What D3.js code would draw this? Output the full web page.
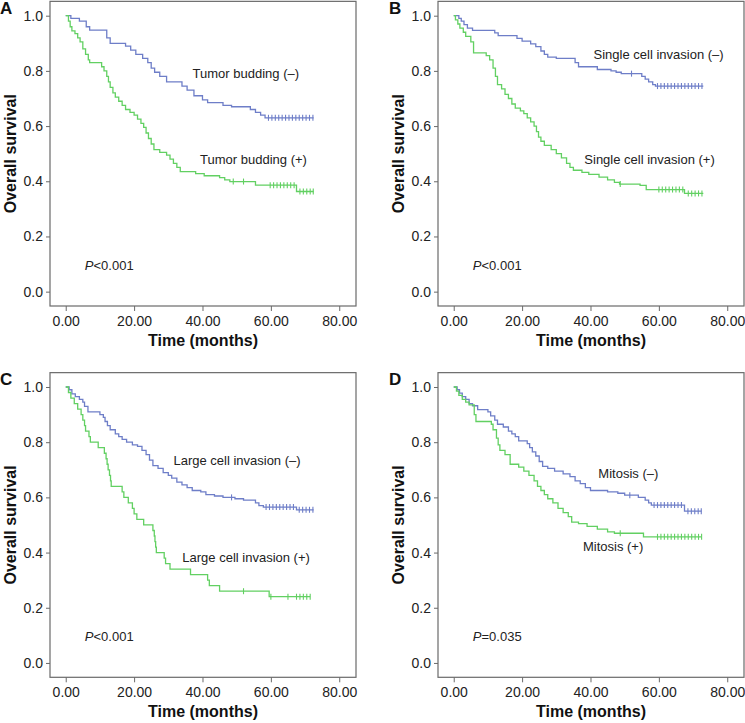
<!DOCTYPE html>
<html>
<head>
<meta charset="utf-8">
<script src="https://cdn.jsdelivr.net/npm/d3@7"></script>
<style>
  body { margin: 0; background: #fff; }
  text { font-family: "Liberation Sans", Arial, sans-serif; }
</style>
</head>
<body>
<script>
// Axis ticks shared by all four panels
var xTicks = [0, 20, 40, 60, 80];
var yTicks = [0, 0.2, 0.4, 0.6, 0.8, 1.0];

// Kaplan-Meier steps as [time in months, survival after that time]
// A - tumor budding
var buddingNeg = [[0,1],[1.5,0.99],[4,0.98],[6,0.96],[7,0.948],[12,0.92],[13,0.90],[17.5,0.89],[19,0.875],[20.5,0.86],
  [22.5,0.845],[24,0.83],[25,0.81],[26,0.795],[27.5,0.78],[29.5,0.76],[34,0.745],[35.5,0.73],[37.5,0.71],[40,0.695],
  [41.5,0.685],[46,0.675],[48.5,0.67],[54,0.66],[55.5,0.65],[57,0.64],[58.3,0.63],[72.5,0.63]];
var buddingNegCensor = [59.3,60.3,61.3,62.3,63.3,64.3,65.3,66.3,67.3,68.3,69.3,70.3,71.3,72.3];
var buddingPos = [[0,1],[0.8,0.98],[1.3,0.96],[1.8,0.945],[2.7,0.935],[3.5,0.92],[4.2,0.905],[5,0.88],[5.8,0.86],[6.6,0.84],
  [7,0.83],[10.5,0.815],[11.2,0.80],[12,0.78],[12.5,0.76],[13,0.74],[13.8,0.72],[14.5,0.705],[15.5,0.69],[16.5,0.675],
  [17.5,0.66],[18.8,0.65],[20,0.64],[21,0.625],[22,0.61],[22.8,0.595],[23.5,0.575],[24.2,0.555],[25,0.535],[25.8,0.515],
  [27.5,0.505],[29.5,0.495],[30.5,0.48],[31.5,0.465],[32.5,0.45],[33.5,0.435],[38,0.428],[40.5,0.42],[45,0.413],
  [46.5,0.405],[48,0.399],[55.5,0.386],[67.5,0.363],[72.5,0.363]];
var buddingPosCensor = [49,52,59.8,60.8,61.8,62.8,63.8,64.8,65.8,66.8,68.5,69.5,70.5,71.5,72.4];

// B - single cell invasion
var singleNeg = [[0,1],[1.5,0.99],[2.2,0.98],[3,0.968],[4,0.955],[5.5,0.947],[12,0.938],[13,0.928],[18.5,0.918],[20,0.908],
  [22.5,0.898],[24,0.888],[25.5,0.872],[26.5,0.86],[27.5,0.85],[30,0.845],[35.5,0.83],[36.5,0.815],[42,0.805],[46,0.80],
  [47.5,0.795],[49,0.79],[55,0.78],[56,0.77],[57,0.76],[58.2,0.75],[59,0.745],[73,0.745]];
var singleNegCensor = [52,59.6,60.6,61.6,62.6,63.6,64.6,65.6,66.6,67.6,68.6,69.6,70.6,71.6,72.6];
var singlePos = [[0,1],[0.5,0.985],[1.2,0.97],[1.8,0.955],[2.8,0.94],[3.5,0.925],[5,0.905],[5.8,0.865],[9.5,0.855],
  [10.5,0.84],[11.5,0.81],[12.2,0.78],[12.8,0.75],[14,0.735],[15,0.715],[16,0.70],[17,0.68],[18,0.665],[19.5,0.655],
  [20.5,0.645],[21.5,0.63],[22.5,0.615],[23.5,0.60],[24.2,0.58],[24.8,0.56],[25.5,0.545],[26.5,0.53],[28.5,0.515],
  [30,0.50],[31.5,0.485],[33,0.465],[34,0.45],[35,0.44],[37.5,0.432],[39.5,0.425],[42.5,0.415],[45,0.405],[47,0.396],
  [48.5,0.39],[54.5,0.385],[56.3,0.37],[67.5,0.356],[73,0.356]];
var singlePosCensor = [48.7,60,61,62,63,64,65,66,67,68.6,69.6,70.6,71.6,72.6];

// C - large cell invasion
var largeNeg = [[0,1],[1,0.99],[1.8,0.975],[2.8,0.965],[4,0.955],[5,0.945],[5.5,0.93],[6.5,0.91],[10,0.90],[11,0.89],
  [11.5,0.875],[12.2,0.86],[13,0.845],[14.5,0.83],[15.5,0.82],[16.5,0.81],[17.8,0.80],[19.5,0.79],[21,0.785],[22.3,0.77],
  [23.5,0.755],[24.5,0.735],[25.5,0.715],[27,0.705],[28.5,0.69],[30,0.68],[31,0.67],[32.5,0.655],[34,0.645],[35.5,0.635],
  [37,0.625],[39.5,0.62],[41,0.61],[43.5,0.605],[46,0.60],[49.5,0.595],[52,0.59],[55.5,0.58],[56.5,0.57],[57.8,0.565],
  [67.5,0.555],[72.5,0.555]];
var largeNegCensor = [48.5,58.6,59.6,60.6,61.6,62.6,63.6,64.6,65.6,66.6,68.3,69.3,70.3,71.3,72.3];
var largePos = [[0,1],[0.8,0.98],[1.5,0.96],[2.5,0.94],[3.5,0.92],[4.5,0.90],[5,0.88],[5.5,0.86],[5.8,0.84],[6.8,0.82],
  [7.2,0.80],[9.5,0.78],[11.3,0.76],[11.8,0.74],[12.1,0.72],[12.4,0.70],[12.8,0.68],[13.1,0.66],[13.3,0.64],[16.5,0.62],
  [17,0.60],[18.3,0.58],[19.5,0.56],[20,0.54],[20.8,0.52],[22.8,0.50],[25.5,0.48],[25.9,0.46],[26.1,0.44],[26.3,0.42],
  [26.5,0.40],[28.8,0.38],[29.2,0.36],[30.5,0.34],[36.5,0.32],[41.5,0.30],[42,0.28],[45,0.26],[59.5,0.24],[71.5,0.24]];
var largePosCensor = [52,60,65,67.5,68.5,69.5,70.5,71.5];

// D - mitosis
var mitosisNeg = [[0,1],[1,0.99],[1.7,0.978],[2.5,0.965],[3.5,0.955],[4.5,0.94],[5.5,0.932],[7,0.918],[10,0.91],[10.8,0.895],
  [12,0.88],[12.8,0.865],[14.5,0.855],[16,0.84],[17,0.83],[18,0.82],[19,0.805],[21.5,0.795],[22.2,0.78],[23,0.765],
  [24,0.75],[25,0.73],[26,0.712],[27.5,0.705],[29.5,0.695],[32,0.685],[34,0.675],[35.5,0.66],[37,0.65],[38.5,0.635],
  [40,0.625],[45,0.62],[48,0.615],[50,0.608],[54,0.60],[56,0.59],[57,0.58],[57.8,0.572],[67.5,0.55],[72.5,0.55]];
var mitosisNegCensor = [51.5,58.6,59.6,60.6,61.6,62.6,63.6,64.6,65.6,66.6,68.5,69.5,70.5,71.5,72.4];
var mitosisPos = [[0,1],[0.8,0.985],[1.5,0.97],[2.5,0.955],[3.5,0.945],[4.5,0.935],[6,0.90],[6.5,0.875],[11,0.865],
  [11.5,0.845],[12.5,0.815],[13,0.79],[13.5,0.77],[15,0.755],[16.5,0.72],[19,0.71],[20.5,0.695],[22,0.68],[23.5,0.66],
  [24.5,0.64],[25.5,0.625],[26.5,0.61],[27.5,0.595],[29,0.58],[30.5,0.56],[32,0.545],[33.5,0.53],[34.5,0.51],[36.5,0.505],
  [39,0.495],[42,0.485],[45,0.475],[47,0.47],[55.5,0.457],[72.5,0.457]];
var mitosisPosCensor = [48.7,59.6,60.6,61.6,62.6,63.6,64.6,65.6,66.6,67.6,68.6,69.6,70.6,71.6,72.5];

var panelLetters = ['A', 'B', 'C', 'D'];
var negLabels = ['Tumor budding (\u2013)', 'Single cell invasion (\u2013)', 'Large cell invasion (\u2013)', 'Mitosis (\u2013)'];
var posLabels = ['Tumor budding (+)', 'Single cell invasion (+)', 'Large cell invasion (+)', 'Mitosis (+)'];
var pValues = ['<0.001', '<0.001', '<0.001', '=0.035'];

var negColor = '#6e7ec8';
var posColor = '#62d062';

// Size of one panel frame
var frameWidth = 306;
var frameHeight = 304.65;

var svg = d3.select('body').append('svg')
  .attr('width', 745)
  .attr('height', 723);

var x = d3.scaleLinear().domain([-4.6, 84.9]).range([0, frameWidth]);
var y = d3.scaleLinear().domain([-0.052, 1.052]).range([frameHeight, 0]);

var km = d3.line()
  .x(function(d) { return x(d[0]); })
  .y(function(d) { return y(d[1]); })
  .curve(d3.curveStepAfter);

// survival at a censored time, for placing the tick on the curve
function survivalAt(steps, t) {
  var s = steps[0][1];
  steps.forEach(function(d) { if (d[0] <= t) s = d[1]; });
  return s;
}

var panels = [
  {left: 50, top: 1.35, neg: buddingNeg, negCensor: buddingNegCensor, pos: buddingPos, posCensor: buddingPosCensor,
   negAt: [37.1, 0.774], posAt: [39.3, 0.463]},
  {left: 438, top: 1.35, neg: singleNeg, negCensor: singleNegCensor, pos: singlePos, posCensor: singlePosCensor,
   negAt: [40.9, 0.843], posAt: [38.2, 0.463]},
  {left: 50, top: 372.65, neg: largeNeg, negCensor: largeNegCensor, pos: largePos, posCensor: largePosCensor,
   negAt: [31.5, 0.719], posAt: [34.1, 0.365]},
  {left: 438, top: 372.65, neg: mitosisNeg, negCensor: mitosisNegCensor, pos: mitosisPos, posCensor: mitosisPosCensor,
   negAt: [42.3, 0.672], posAt: [37.8, 0.405]}
];

panels.forEach(function(p, i) {
  drawPanel(p, i);
});

function drawPanel(p, i) {
  var g = svg.append('g').attr('transform', 'translate(' + p.left + ',' + p.top + ')');

  // axes
  var yAxis = g.append('g')
    .call(d3.axisLeft(y).tickValues(yTicks).tickFormat(d3.format('.1f')).tickSize(4).tickPadding(3));
  var xAxis = g.append('g')
    .attr('transform', 'translate(0,' + frameHeight + ')')
    .call(d3.axisBottom(x).tickValues(xTicks).tickFormat(d3.format('.2f')).tickSize(5).tickPadding(5));
  [yAxis, xAxis].forEach(function(a) {
    a.select('.domain').remove();
    a.selectAll('line').attr('stroke', '#6a6a6a');
    a.selectAll('text').attr('fill', '#222').style('font-size', '14px');
  });

  g.append('rect')
    .attr('width', frameWidth)
    .attr('height', frameHeight)
    .attr('fill', 'none')
    .attr('stroke', '#6a6a6a')
    .attr('stroke-width', 1.2);

  // curves
  drawCurve(g, p.neg, p.negCensor, negColor);
  drawCurve(g, p.pos, p.posCensor, posColor);

  g.append('text')
    .attr('x', x(p.negAt[0]))
    .attr('y', y(p.negAt[1]))
    .style('font-size', '13px')
    .attr('fill', '#222')
    .text(negLabels[i]);
  g.append('text')
    .attr('x', x(p.posAt[0]))
    .attr('y', y(p.posAt[1]))
    .style('font-size', '13px')
    .attr('fill', '#222')
    .text(posLabels[i]);

  var pText = g.append('text')
    .attr('x', x(5.6))
    .attr('y', y(0.078))
    .style('font-size', '13px')
    .attr('fill', '#222');
  pText.append('tspan').style('font-style', 'italic').text('P');
  pText.append('tspan').text(pValues[i]);

  // axis titles
  g.append('text')
    .attr('x', frameWidth / 2)
    .attr('y', frameHeight + 40)
    .attr('text-anchor', 'middle')
    .style('font-size', '16px')
    .style('font-weight', 'bold')
    .attr('fill', '#111')
    .text('Time (months)');
  g.append('text')
    .attr('transform', 'translate(-33.7,' + (frameHeight / 2) + ') rotate(-90)')
    .attr('text-anchor', 'middle')
    .style('font-size', '16px')
    .style('font-weight', 'bold')
    .attr('fill', '#111')
    .text('Overall survival');

  // panel letter, sits just left of the y axis title
  g.append('text')
    .attr('x', (i % 2 === 0 ? -50 : -49))
    .attr('y', 12.7)
    .style('font-size', '17px')
    .style('font-weight', 'bold')
    .attr('fill', '#111')
    .text(panelLetters[i]);
}

function drawCurve(g, steps, censor, color) {
  g.append('path')
    .datum(steps)
    .attr('d', km)
    .attr('fill', 'none')
    .attr('stroke', color)
    .attr('stroke-width', 1.3);

  g.selectAll(null)
    .data(censor)
    .enter()
    .append('line')
    .attr('x1', function(t) { return x(t); })
    .attr('x2', function(t) { return x(t); })
    .attr('y1', function(t) { return y(survivalAt(steps, t)) - 3; })
    .attr('y2', function(t) { return y(survivalAt(steps, t)) + 3; })
    .attr('stroke', color)
    .attr('stroke-width', 1.1);
}
</script>
</body>
</html>
